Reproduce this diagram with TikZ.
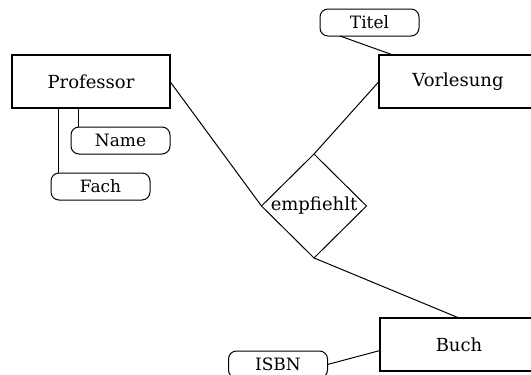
\documentclass[tikz,border=0pt]{standalone}
\usepackage{fontspec}
\setmainfont{DejaVu Serif}
\usetikzlibrary{shapes.geometric}
\begin{document}
\begin{tikzpicture}[x=0.5pt, y=-0.5pt, font=\fontsize{9}{11}\selectfont, line width=0.5pt,
	entity/.style={draw, line width=0.65pt, minimum width=79pt, minimum height=26.5pt, inner sep=0pt, outer sep=0pt},
	attrib/.style={draw, rounded corners=4pt, minimum width=49.5pt, minimum height=13.5pt, inner sep=0pt, outer sep=0pt, font=\fontsize{8.5}{10}\selectfont},
	relation/.style={draw, diamond, aspect=1, minimum width=52.5pt, inner sep=0pt, outer sep=0pt}]
	\useasboundingbox (0, 0) rectangle (531, 375);
	
	% Entitaeten
	\node[entity] (professor) at (91, 81.5) {Professor};
	\node[entity] (vorlesung) at (458, 81.5) {Vorlesung};
	\node[entity] (buch) at (459, 344.5) {Buch};
	
	% Beziehung
	\node[relation] (empfiehlt) at (314, 206) {empfiehlt};
	
	% Attribute
	\node[attrib] (name) at (120.5, 140.5) {Name};
	\node[attrib] (fach) at (100.5, 186.5) {Fach};
	\node[attrib] (titel) at (369.5, 22.5) {Titel};
	\node[attrib] (isbn) at (278, 364.5) {ISBN};
	
	\draw (professor.east) -- (empfiehlt.west);
	\draw (vorlesung.west) -- (empfiehlt.north);
	\draw (empfiehlt.south) -- (buch.north);
	\draw ([xshift=33pt]professor.south west) -- ([xshift=33pt]professor.south west |- name.north);
	\draw ([xshift=23pt]professor.south west) -- ([xshift=23pt]professor.south west |- fach.north);
	\draw ([xshift=10pt]titel.south west) -- ([xshift=7pt]vorlesung.north west);
	\draw (isbn.east) -- ([yshift=-3pt]buch.west);
\end{tikzpicture}
\end{document}
